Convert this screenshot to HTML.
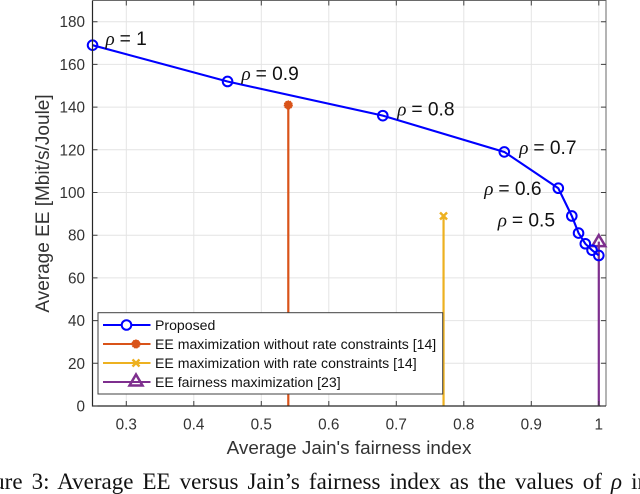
<!DOCTYPE html>
<html>
<head>
<meta charset="utf-8">
<style>
html,body{margin:0;padding:0;background:#fff;width:640px;height:494px;overflow:hidden}
svg{display:block;font-family:"Liberation Sans",sans-serif}
</style>
</head>
<body>
<svg id="chart" width="640" height="494" viewBox="0 0 640 494" xmlns="http://www.w3.org/2000/svg">
<text transform="translate(49 203.5) rotate(-90)" text-anchor="middle" font-size="19" fill="#333">Average EE [Mbit/s/Joule]</text>
<text x="349" y="454" text-anchor="middle" font-size="18.9" fill="#333">Average Jain's fairness index</text>
<text x="-37.5" y="489" font-size="23" fill="#111" font-family="'Liberation Serif',serif" word-spacing="3.3">Figure 3: Average EE versus Jain’s fairness index as the values of <tspan font-style="italic">ρ</tspan> in</text>
</svg>
<script>
var xTicks = [0.3, 0.4, 0.5, 0.6, 0.7, 0.8, 0.9, 1];
var xTickLabels = ['0.3', '0.4', '0.5', '0.6', '0.7', '0.8', '0.9', '1'];
var yTicks = [0, 20, 40, 60, 80, 100, 120, 140, 160, 180];
var yTickLabels = ['0', '20', '40', '60', '80', '100', '120', '140', '160', '180'];
var proposedFairness = [0.25, 0.45, 0.68, 0.86, 0.94, 0.96, 0.97, 0.98, 0.99, 1.0];
var proposedEE = [169, 152, 136, 119, 102, 89, 81, 76, 73, 70.5];
var noRateFairness = [0.54];
var noRateEE = [141];
var withRateFairness = [0.77];
var withRateEE = [89];
var fairMaxFairness = [1.0];
var fairMaxEE = [77];
var rhoLabels = ['= 1', '= 0.9', '= 0.8', '= 0.7', '= 0.6', '= 0.5'];
var legendLabels = ['Proposed', 'EE maximization without rate constraints [14]', 'EE maximization with rate constraints [14]', 'EE fairness maximization [23]'];

var svg = document.getElementById('chart');
var NS = 'http://www.w3.org/2000/svg';
var plot = {left: 92.5, right: 606, top: 0.5, bottom: 406};
function sx(v) { return 126.3 + (v - 0.3) * 675; }
function sy(v) { return 406 - v * 2.135; }
function make(tag, attrs, text) {
  var el = document.createElementNS(NS, tag);
  for (var k in attrs) el.setAttribute(k, attrs[k]);
  if (text !== undefined) el.textContent = text;
  svg.appendChild(el);
  return el;
}
var BLUE = '#0000ff', ORANGE = '#D95319', YELLOW = '#EDB120', PURPLE = '#7E2F8E';
var el, i;

// grid
for (i = 0; i < xTicks.length; i++) {
  el = make('line', {x1: sx(xTicks[i]), x2: sx(xTicks[i]), y1: plot.top, y2: plot.bottom, stroke: '#e4e4e4', 'stroke-width': 1});
  
  
}
for (i = 0; i < yTicks.length; i++) {
  if (yTicks[i] === 0) continue;
  el = make('line', {x1: plot.left, x2: plot.right, y1: sy(yTicks[i]), y2: sy(yTicks[i]), stroke: '#e4e4e4', 'stroke-width': 1});
  
  
}

// stems
function stem(fx, fy, color, name) {
  el = make('line', {x1: sx(fx), x2: sx(fx), y1: sy(fy), y2: sy(0), stroke: color, 'stroke-width': 2.2});
  
  
}
function starMarker(cx, cy, name) {
  el = make('circle', {cx: cx, cy: cy, r: 4.1, fill: ORANGE, stroke: ORANGE, 'stroke-width': 1, 'stroke-dasharray': '1.5 0.8'});
  
  
}
function xMarker(cx, cy, name) {
  el = make('path', {d: 'M' + (cx - 3.5) + ' ' + (cy - 3.5) + 'L' + (cx + 3.5) + ' ' + (cy + 3.5) + 'M' + (cx + 3.5) + ' ' + (cy - 3.5) + 'L' + (cx - 3.5) + ' ' + (cy + 3.5), stroke: YELLOW, 'stroke-width': 2.4, fill: 'none'});
  
  
}
function triMarker(cx, cy, name) {
  el = make('path', {d: 'M' + cx + ' ' + (cy - 6.5) + 'L' + (cx + 6.5) + ' ' + (cy + 4.5) + 'L' + (cx - 6.5) + ' ' + (cy + 4.5) + 'Z', stroke: PURPLE, 'stroke-width': 2.5, fill: 'none'});
  
  
}
stem(noRateFairness[0], noRateEE[0], ORANGE, 'no-rate-constraints-stem');
starMarker(sx(noRateFairness[0]), sy(noRateEE[0]), 'no-rate-constraints-marker');
stem(withRateFairness[0], withRateEE[0], YELLOW, 'with-rate-constraints-stem');
xMarker(sx(withRateFairness[0]), sy(withRateEE[0]), 'with-rate-constraints-marker');

// axes box
el = make('path', {d: 'M' + plot.left + ' ' + plot.top + 'H' + plot.right + 'V' + plot.bottom, fill: 'none', stroke: '#6a6a6a', 'stroke-width': 1});



// fair max, on top of axes
stem(fairMaxFairness[0], fairMaxEE[0], PURPLE, 'fairness-maximization-stem');
triMarker(sx(fairMaxFairness[0]), sy(fairMaxEE[0]), 'fairness-maximization-marker');

// proposed line
var pts = [];
for (i = 0; i < proposedFairness.length; i++) pts.push(sx(proposedFairness[i]) + ',' + sy(proposedEE[i]));
el = make('polyline', {points: pts.join(' '), fill: 'none', stroke: BLUE, 'stroke-width': 2.1});


for (i = 0; i < proposedFairness.length; i++) {
  el = make('circle', {cx: sx(proposedFairness[i]), cy: sy(proposedEE[i]), r: 4.8, fill: 'none', stroke: BLUE, 'stroke-width': 2});
  
  
}

// left and bottom axes
el = make('path', {d: 'M' + plot.left + ' ' + plot.top + 'V' + plot.bottom + 'H' + plot.right, fill: 'none', stroke: '#262626', 'stroke-width': 1.2});



// ticks
for (i = 0; i < xTicks.length; i++) {
  var tx = sx(xTicks[i]);
  el = make('path', {d: 'M' + tx + ' ' + plot.bottom + 'v-5M' + tx + ' ' + plot.top + 'v5', stroke: '#404040', 'stroke-width': 1, fill: 'none'});
  
  
  el = make('text', {x: tx, y: 429.5, 'text-anchor': 'middle', 'font-size': 15.3, fill: '#333'}, xTickLabels[i]);
  
  
}
for (i = 0; i < yTicks.length; i++) {
  var ty = sy(yTicks[i]);
  el = make('path', {d: 'M' + plot.left + ' ' + ty + 'h5M' + plot.right + ' ' + ty + 'h-5', stroke: '#404040', 'stroke-width': 1, fill: 'none'});
  
  
  el = make('text', {x: 85, y: ty + 5.5, 'text-anchor': 'end', 'font-size': 15.3, fill: '#333'}, yTickLabels[i]);
  
  
}

// rho annotations: anchored relative to the proposed points
var rhoOffX = [13, 14, 14.5, 15, -74, -74];
var rhoOffY = [0, -1.5, 0, 2.3, 6.8, 10.7];
for (i = 0; i < rhoLabels.length; i++) {
  el = make('text', {x: sx(proposedFairness[i]) + rhoOffX[i], y: sy(proposedEE[i]) + rhoOffY[i], 'font-size': 19.2, fill: '#111'});
  
  
  var g = document.createElementNS(NS, 'tspan');
  g.setAttribute('font-family', '"Liberation Serif",serif');
  g.setAttribute('font-style', 'italic');
  g.textContent = 'ρ ';
  el.appendChild(g);
  el.appendChild(document.createTextNode(rhoLabels[i]));
}

// legend
el = make('rect', {x: 98, y: 312.7, width: 344.7, height: 81.3, fill: '#fff', stroke: '#404040', 'stroke-width': 1});


var legendColors = [BLUE, ORANGE, YELLOW, PURPLE];
var legendRowY = [325, 344, 363, 382];
for (i = 0; i < legendLabels.length; i++) {
  el = make('line', {x1: 103, x2: 150.5, y1: legendRowY[i], y2: legendRowY[i], stroke: legendColors[i], 'stroke-width': 2.1});
  
  
  el = make('text', {x: 155, y: legendRowY[i] + 5.2, 'font-size': 14.1, fill: '#111'}, legendLabels[i]);
  
  
}
el = make('circle', {cx: 126.5, cy: legendRowY[0], r: 4.8, fill: '#fff', stroke: BLUE, 'stroke-width': 2});


starMarker(136, legendRowY[1], 'legend-no-rate-marker');
xMarker(136, legendRowY[2], 'legend-with-rate-marker');
triMarker(136, legendRowY[3] - 1, 'legend-fairness-marker');
</script>
</body>
</html>
